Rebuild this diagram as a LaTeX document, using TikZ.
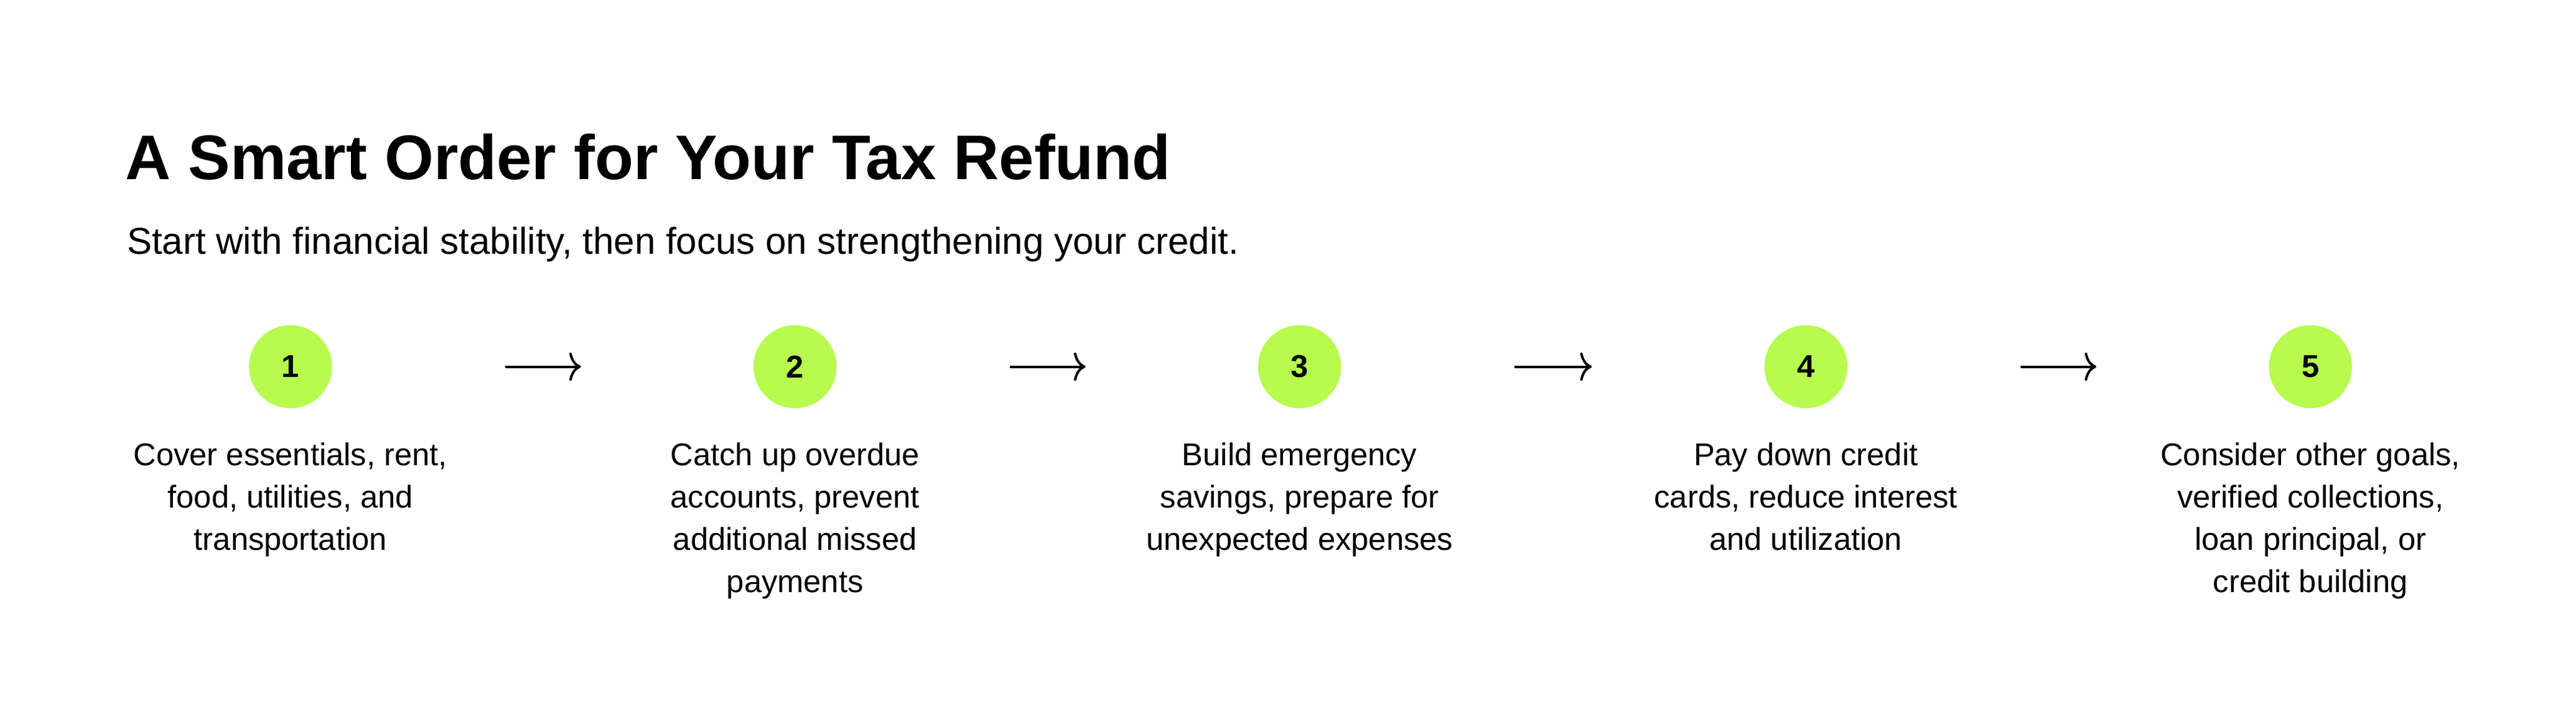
\documentclass[tikz,border=0pt]{standalone}
\usepackage{fontspec}
\setmainfont{Liberation Sans}
\usetikzlibrary{positioning,arrows.meta}
\definecolor{lime}{HTML}{B6FB4E}
\begin{document}
\begin{tikzpicture}[x=1pt,y=1pt,
  stepnode/.style={circle, fill=lime, minimum size=50pt, inner sep=0pt, font=\fontsize{19}{19}\selectfont\bfseries},
  desc/.style={align=center, anchor=north, font=\fontsize{19}{25.5}\selectfont},
  flow/.style={-{To[length=7pt,width=17pt]}, line width=1.5pt, line cap=round, shorten <=130pt, shorten >=129pt}]
\useasboundingbox (0,0) rectangle (1552,-436);
\node[anchor=base west, font=\fontsize{38}{38}\selectfont\bfseries] (title) at (72,-108) {A Smart Order for Your Tax Refund};
\node[anchor=base west, font=\fontsize{22.5}{22.5}\selectfont] (sub) at (73,-153) {Start with financial stability, then focus on strengthening your credit.};
% steps
\node[stepnode] (s1) at (175,-221) {1};
\node[stepnode] (s2) at (479,-221) {2};
\node[stepnode] (s3) at (783,-221) {3};
\node[stepnode] (s4) at (1088,-221) {4};
\node[stepnode] (s5) at (1392,-221) {5};
\node[desc, below=17pt of s1] (d1) {Cover essentials, rent,\\food, utilities, and\\transportation};
\node[desc, below=17pt of s2] (d2) {Catch up overdue\\accounts, prevent\\additional missed\\payments};
\node[desc, below=17pt of s3] (d3) {Build emergency\\savings, prepare for\\unexpected expenses};
\node[desc, below=17pt of s4] (d4) {Pay down credit\\cards, reduce interest\\and utilization};
\node[desc, below=17pt of s5] (d5) {Consider other goals,\\verified collections,\\loan principal, or\\credit building};
% arrows
\foreach \a/\b in {s1/s2,s2/s3,s3/s4,s4/s5}
  \draw[flow] (\a.center) -- (\b.center);
\end{tikzpicture}
\end{document}
